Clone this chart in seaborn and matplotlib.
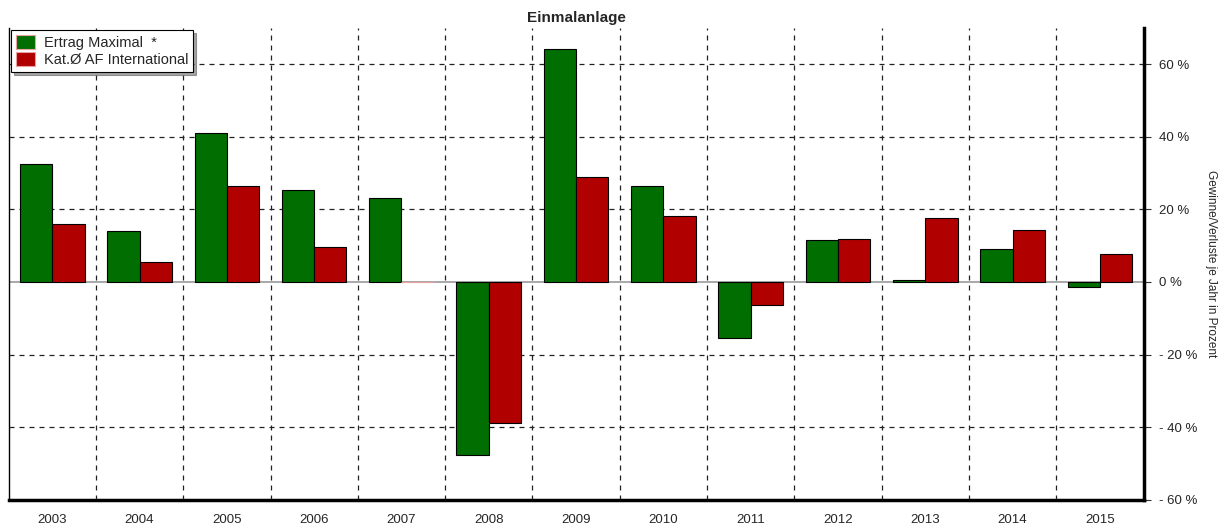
import matplotlib
matplotlib.use("Agg")
import matplotlib.pyplot as plt
import seaborn as sns
import pandas as pd
import numpy as np

years = ["2003", "2004", "2005", "2006", "2007", "2008", "2009",
         "2010", "2011", "2012", "2013", "2014", "2015"]
ertrag = [32.6, 14.0, 41.1, 25.2, 23.0, -47.7, 64.1, 26.3, -15.3, 11.5, 0.5, 9.0, -1.4]
kat = [15.9, 5.5, 26.3, 9.6, 0.0, -38.9, 29.0, 18.1, -6.3, 11.8, 17.5, 14.2, 7.7]
series = ["Ertrag Maximal  *", "Kat.Ø AF International"]
y_ticks = [-60, -40, -20, 0, 20, 40, 60]
y_labels = ["- 60 %", "- 40 %", "- 20 %", "0 %", "20 %", "40 %", "60 %"]

df = pd.DataFrame({
    "Jahr": years * 2,
    "Wert": ertrag + kat,
    "Reihe": [series[0]] * len(years) + [series[1]] * len(years),
})

sns.set_style("white")
plt.rcParams["font.family"] = ["Liberation Sans", "DejaVu Sans"]

fig = plt.figure(figsize=(12.27, 5.24), dpi=100)
ax = fig.add_axes([0.007, 0.046, 0.925, 0.901])

sns.barplot(data=df, x="Jahr", y="Wert", hue="Reihe", order=years,
            palette=["#006e00", "#b00000"], width=0.74, gap=0,
            edgecolor="black", linewidth=0.8, saturation=1, ax=ax, zorder=3)

# Null-Balken nur als blasse Linie
for p in ax.patches:
    if p.get_height() == 0:
        p.set_edgecolor("#e8a0a0")

ax.set_xlim(-0.5, len(years) - 0.5)
ax.set_ylim(-60, 70)

# y-Achse rechts
ax.yaxis.tick_right()
ax.yaxis.set_label_position("right")
ax.set_yticks(y_ticks)
ax.set_yticklabels(y_labels, fontsize=9.5)
ax.tick_params(axis="y", length=5, width=0.8, color="#333333", pad=6)
ax.set_ylabel("Gewinne/Verluste je Jahr in Prozent", rotation=-90,
              labelpad=14, fontsize=8.5)

# x-Achse: Striche an den Grenzen, Jahre in der Mitte
bounds = np.arange(-0.5, len(years), 1.0)
ax.set_xticks(bounds)
ax.set_xticklabels([""] * len(bounds))
ax.set_xticks(np.arange(-0.5, len(years) - 0.4, 0.2), minor=True)
ax.tick_params(axis="x", which="major", length=6, width=0.8, direction="inout")
ax.tick_params(axis="x", which="minor", length=3, width=0.6, direction="inout")
for i, y in enumerate(years):
    ax.text(i, -0.03, y, transform=ax.get_xaxis_transform(),
            ha="center", va="top", fontsize=9.5)
ax.set_xlabel("")

# Gitter
for b in bounds[1:-1]:
    ax.axvline(b, color="#222222", linestyle=(0, (4, 4)), linewidth=0.9, zorder=1)
for t in [-40, -20, 20, 40, 60]:
    ax.axhline(t, color="#222222", linestyle=(0, (4, 4)), linewidth=0.9, zorder=1)
ax.axhline(0, color="#999999", linewidth=1.2, zorder=2)

# Rahmen
ax.spines["top"].set_visible(False)
ax.spines["left"].set_linewidth(1.0)
ax.spines["right"].set_linewidth(2.5)
ax.spines["bottom"].set_linewidth(2.5)
for s in ax.spines.values():
    s.set_color("black")

ax.set_title("Einmalanlage", fontsize=11, fontweight="bold", pad=4)

leg = ax.legend(loc="upper left", bbox_to_anchor=(0.0, 1.0), fontsize=10.5,
                frameon=True, shadow=True, fancybox=False, borderpad=0.35,
                handlelength=1.3, handleheight=1.1, handletextpad=0.6,
                labelspacing=0.15, borderaxespad=0.15)
leg.get_frame().set_edgecolor("black")
leg.get_frame().set_linewidth(0.8)
leg.set_zorder(5)

fig.savefig("out.png", dpi=100)
